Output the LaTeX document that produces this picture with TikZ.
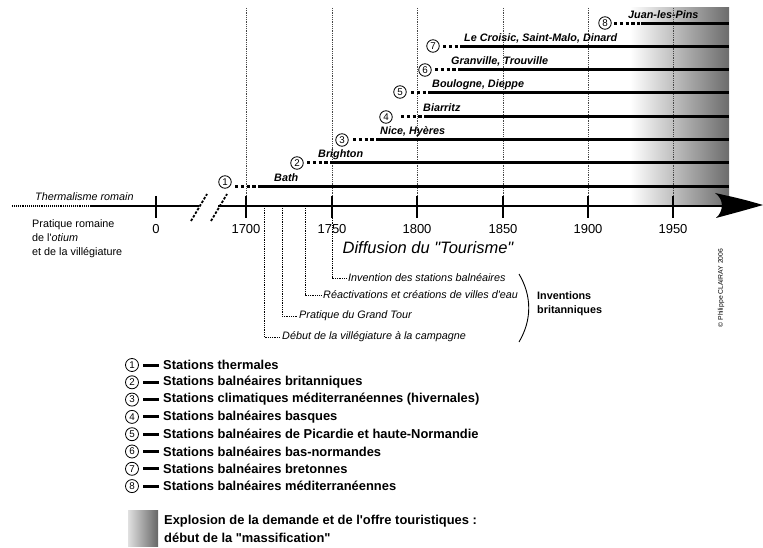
\documentclass[tikz,border=0pt]{standalone}
\usepackage{fontspec}
\setmainfont{Liberation Sans}[Ligatures=TeXOff]
\definecolor{gdark}{RGB}{108,108,108}
\definecolor{gridc}{RGB}{70,70,70}
\begin{document}
\begin{tikzpicture}[x=1pt,y=-1pt,
  stline/.style={line width=3pt},
  stdots/.style={line width=3pt, dash pattern=on 3.2pt off 2.6pt},
  gridline/.style={line width=0.8pt, gridc, dash pattern=on 0.9pt off 0.9pt},
  axisline/.style={line width=2.4pt},
  axisdots/.style={line width=1.6pt, dash pattern=on 1pt off 0.9pt},
  tickmark/.style={line width=2.2pt},
  slashmark/.style={line width=1.8pt, dash pattern=on 2.6pt off 1.6pt},
  numc/.style={circle, draw, line width=0.8pt, inner sep=0pt, minimum size=12.5pt, font=\fontsize{9.8}{9.8}\selectfont},
  stlab/.style={font=\fontsize{10.8}{12}\selectfont\bfseries\itshape, anchor=base west, inner sep=0pt},
  ticklab/.style={font=\fontsize{13}{13}\selectfont, inner sep=0pt},
  annot/.style={font=\fontsize{10.8}{12}\selectfont\itshape, anchor=west, inner sep=2pt},
  leader/.style={line width=0.7pt, dash pattern=on 0.9pt off 0.9pt},
  legtext/.style={font=\fontsize{12.9}{14}\selectfont\bfseries, anchor=west, inner sep=0pt},
  plain/.style={font=\fontsize{10.8}{12}\selectfont, anchor=base west, inner sep=0pt}
]
\useasboundingbox (0,0) rectangle (763,548);

% gradient area
\shade[left color=white, right color=gdark] (630,8) rectangle (729,206);

% vertical grid lines
\foreach \x/\yr in {246/1700,332/1750,417/1800,503/1850,588/1900,673/1950}
  \draw[gridline] (\x,8) coordinate (gt\yr) -- (\x,206) coordinate (gb\yr);

% station lines
\foreach \n/\cx/\cy/\ds/\ss/\ly/\lx/\txt in {
  1/225/182/235/258/187/274/{Bath},
  2/297/163/307/332/163/318/{Brighton},
  3/342/140/353/379/140/380/{Nice, Hyères},
  4/386/117/401/424/117/423/{Biarritz},
  5/400/92/411/429/93/432/{Boulogne, Dieppe},
  6/425/70/435/459/70/451/{Granville, Trouville},
  7/433/46/443/463/47/464/{Le Croisic, Saint-Malo, Dinard},
  8/605/23/614/641/24/628/{Juan-les-Pins}}{
  \coordinate (d\n) at (\ds,\ly);
  \coordinate (s\n) at (\ss,\ly);
  \coordinate (e\n) at (729,\ly);
  \draw[stdots] (d\n) -- (s\n);
  \draw[stline] (s\n) -- (e\n);
  \node[numc, fill=white] (c\n) at (\cx,\cy) {\n};
  \node[stlab] (lab\n) at (\lx,\ly-5) {\txt};
}

% axis
\coordinate (a0) at (12,206);
\coordinate (a1) at (90,206);
\coordinate (a2) at (199,206);
\coordinate (a3) at (218,206);
\coordinate (a4) at (728,206);
\draw[axisdots] (a0) -- (a1);
\draw[axisline] (a1) -- (a2);
\draw[axisline] (a3) -- (a4);
\fill (763,205) .. controls (742,199) .. (715,193) .. controls (724,199) and (724,211) .. (716,218) .. controls (742,211) .. (763,205);

% break slashes
\draw[slashmark] (191,221) -- (207,194);
\draw[slashmark] (211,221) -- (227,194);

% ticks and labels
\foreach \x/\t in {156/0,246/1700,332/1750,417/1800,503/1850,588/1900,673/1950}{
  \draw[tickmark] (\x,196) coordinate (tt\t) -- (\x,218) coordinate (tb\t);
  \node[ticklab] (tl\t) at (\x,229) {\t};
}

\node[font=\fontsize{16.5}{18}\selectfont\itshape, inner sep=0pt] (diff) at (428,248) {Diffusion du "Tourisme"};

\node[plain, font=\fontsize{10.8}{12}\selectfont\itshape] (therm) at (35,201) {Thermalisme romain};
\node[plain] (pr1) at (32,228) {Pratique romaine};
\node[plain] (pr2) at (32,242) {de l'\textit{otium}};
\node[plain] (pr3) at (32,255) {et de la villégiature};

% annotations
\coordinate (v1) at (264,208);
\coordinate (v2) at (282,208);
\coordinate (v3) at (305,208);
\coordinate (v4) at (332,218);
\node[annot] (n1) at (280,337) {Début de la villégiature à la campagne};
\node[annot] (n2) at (297,316) {Pratique du Grand Tour};
\node[annot] (n3) at (321,295) {Réactivations et créations de villes d'eau};
\node[annot] (n4) at (346,278) {Invention des stations balnéaires};
\draw[leader] (v1) |- (n1.west);
\draw[leader] (v2) |- (n2.west);
\draw[leader] (v3) |- (n3.west);
\draw[leader] (v4) |- (n4.west);

\draw[line width=0.9pt] (519,274) .. controls (532,296) and (532,320) .. (519,342);
\node[font=\fontsize{10.8}{14}\selectfont\bfseries, align=left, anchor=west, inner sep=0pt] (inv) at (537,304) {Inventions\\britanniques};

\node[font=\fontsize{6.8}{7}\selectfont, rotate=90, inner sep=0pt] (copy) at (721,288) {© Philippe CLAIRAY 2006};

% legend
\foreach \i/\t in {
  1/{Stations thermales},
  2/{Stations balnéaires britanniques},
  3/{Stations climatiques méditerranéennes (hivernales)},
  4/{Stations balnéaires basques},
  5/{Stations balnéaires de Picardie et haute-Normandie},
  6/{Stations balnéaires bas-normandes},
  7/{Stations balnéaires bretonnes},
  8/{Stations balnéaires méditerranéennes}}{
  \pgfmathsetmacro{\yy}{365+17.3*(\i-1)}
  \node[numc, minimum size=13pt] (lc\i) at (132,\yy) {\i};
  \coordinate (ls\i) at (143,\yy);
  \coordinate (le\i) at (159,\yy);
  \draw[stline] (ls\i) -- (le\i);
  \node[legtext] (lt\i) at (163,\yy) {\t};
}
\shade[left color=black!12, right color=black!60] (128,510) rectangle (158,546);
\node[legtext] (ex1) at (164,521) {Explosion de la demande et de l'offre touristiques :};
\node[legtext] (ex2) at (164,538) {début de la "massification"};
\end{tikzpicture}
\end{document}
